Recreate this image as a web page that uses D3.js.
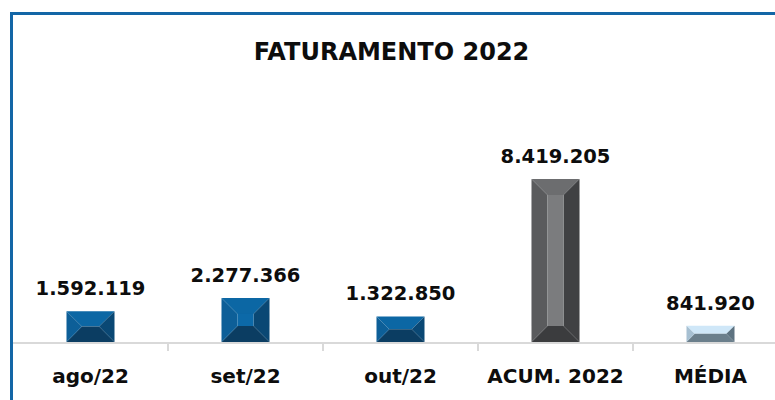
<!DOCTYPE html>
<html>
<head>
<meta charset="utf-8">
<script src="https://cdn.jsdelivr.net/npm/d3@7"></script>
<style>
  html, body { margin: 0; padding: 0; background: #ffffff; }
  svg { display: block; }
  text { font-family: "DejaVu Sans", sans-serif; font-weight: bold; fill: #0d0d0d; }
</style>
</head>
<body>
<svg id="chart" width="775" height="400"></svg>
<script>
// ---- data ----
const title = "FATURAMENTO 2022";
const categories = ["ago/22", "set/22", "out/22", "ACUM. 2022", "MÉDIA"];
const values = [1592119, 2277366, 1322850, 8419205, 841920];
const barKinds = ["month", "month", "month", "total", "average"];

// ---- styles ----
const faces = {
  month:   { top: "#0c67a4", left: "#0d5f98", center: "#0c69a8", right: "#0a4874", bottom: "#0b3d62" },
  total:   { top: "#6c6d6f", left: "#5a5b5d", center: "#7b7c7e", right: "#404143", bottom: "#3b3c3e" },
  average: { top: "#cfe7f8", left: "#a7c0d2", center: "#cfe7f8", right: "#5e7381", bottom: "#6b7f8c" }
};

const W = 775, H = 400;
const svg = d3.select("#chart");

const x = d3.scaleBand().domain(categories).range([13, 788]).paddingInner(0.69).paddingOuter(0.345);
const y = d3.scaleLinear().domain([0, 9000000]).range([342, 167.76]);

const fmt = d3.formatLocale({ decimal: ",", thousands: ".", grouping: [3], currency: ["R$", ""] }).format(",d");

// frame border
svg.append("path")
  .attr("d", `M11.5,${H + 5} L11.5,13.5 L${W + 5},13.5`)
  .attr("fill", "none")
  .attr("stroke", "#1366a6")
  .attr("stroke-width", 3);

// title
svg.append("text")
  .attr("x", 391.5).attr("y", 60)
  .attr("text-anchor", "middle")
  .style("font-size", "24px")
  .text(title);

// axis
const axisG = svg.append("g").attr("transform", `translate(0,${y(0) + 1})`);
axisG.append("line")
  .attr("x1", 13).attr("x2", W)
  .attr("stroke", "#d9d9d9").attr("stroke-width", 2);
const step = x.step();
const boundaries = categories.slice(1).map(c => x(c) - (step - x.bandwidth()) / 2);
axisG.selectAll("line.tick").data(boundaries).enter().append("line")
  .attr("class", "tick")
  .attr("x1", d => d).attr("x2", d => d)
  .attr("y1", 0).attr("y2", 8)
  .attr("stroke", "#d9d9d9").attr("stroke-width", 2);

// category labels
svg.selectAll("text.cat").data(categories).enter().append("text")
  .attr("class", "cat")
  .attr("x", d => x(d) + x.bandwidth() / 2)
  .attr("y", 383)
  .attr("text-anchor", "middle")
  .style("font-size", "20px")
  .text(d => d);

// bars with bevel
const bars = svg.selectAll("g.bar").data(values.map((v, i) => ({ v, c: categories[i], k: barKinds[i] })))
  .enter().append("g").attr("class", "bar");

bars.each(function (d) {
  const g = d3.select(this);
  const x0 = x(d.c), x1 = x(d.c) + x.bandwidth();
  const y0 = y(d.v), y1 = y(0);
  const b = Math.min(16, (x1 - x0) / 2, (y1 - y0) / 2);
  const f = faces[d.k];
  const poly = pts => pts.map(p => p.join(",")).join(" ");
  g.append("polygon").attr("points", poly([[x0, y0], [x1, y0], [x1 - b, y0 + b], [x0 + b, y0 + b]])).attr("fill", f.top);
  g.append("polygon").attr("points", poly([[x0, y1], [x1, y1], [x1 - b, y1 - b], [x0 + b, y1 - b]])).attr("fill", f.bottom);
  g.append("polygon").attr("points", poly([[x0, y0], [x0 + b, y0 + b], [x0 + b, y1 - b], [x0, y1]])).attr("fill", f.left);
  g.append("polygon").attr("points", poly([[x1, y0], [x1 - b, y0 + b], [x1 - b, y1 - b], [x1, y1]])).attr("fill", f.right);
  if (y1 - y0 > 2 * b) {
    g.append("rect").attr("x", x0 + b).attr("y", y0 + b)
      .attr("width", x1 - x0 - 2 * b).attr("height", y1 - y0 - 2 * b).attr("fill", f.center);
  }
});

// value labels
svg.selectAll("text.val").data(values).enter().append("text")
  .attr("class", "val")
  .attr("x", (d, i) => x(categories[i]) + x.bandwidth() / 2)
  .attr("y", d => y(d) - 16)
  .attr("text-anchor", "middle")
  .style("font-size", "19.5px")
  .text(d => fmt(d));
</script>
</body>
</html>
